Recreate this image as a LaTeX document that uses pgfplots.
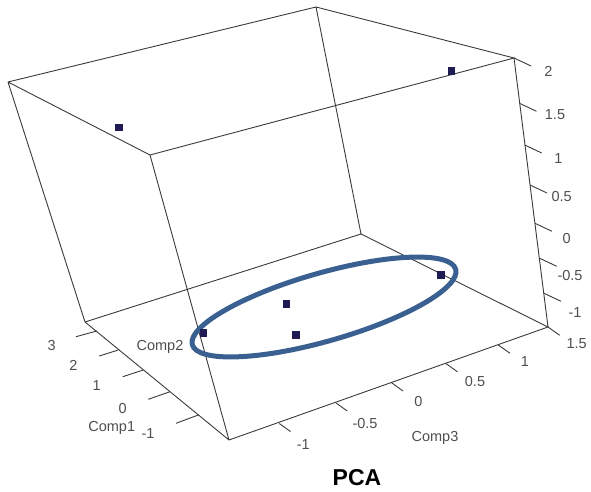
\documentclass[border=0pt]{standalone}
\usepackage{pgfplots}
\pgfplotsset{compat=1.18}
\usepackage{fontspec}
\setmainfont{Liberation Sans}
\definecolor{edge}{RGB}{58,58,58}
\definecolor{ptcol}{RGB}{30,28,82}
\definecolor{ring}{RGB}{58,96,145}
\definecolor{lbl}{RGB}{78,78,78}

\begin{document}
\begin{tikzpicture}
\begin{axis}[
  scale only axis, width=591pt, height=492pt,
  xmin=0, xmax=591, ymin=0, ymax=492, y dir=reverse,
  hide axis, clip=false, unbounded coords=jump,
]
\path (rel axis cs:0,0) rectangle (rel axis cs:1,1);
% bounding box of the scene (projected)
\addplot[no marks, edge, line width=0.9pt] coordinates {
  (8,82) (316,7) (514,58) (150,155) (8,82) (nan,nan)
  (85,322) (361,234) (548,327) (229,440) (85,322) (nan,nan)
  (8,82) (85,322) (nan,nan)
  (316,7) (361,234) (nan,nan)
  (514,58) (548,327) (nan,nan)
  (150,155) (229,440)
};
% Comp1 ticks
\addplot[no marks, edge, line width=0.9pt] coordinates {
  (96.7,331) (76,336.7) (nan,nan)
  (118.3,350) (99.3,356) (nan,nan)
  (143.3,370) (122.7,376.7) (nan,nan)
  (170,391.7) (148.3,399.3) (nan,nan)
  (198.3,415) (176,423.3)
};
% Comp3 ticks
\addplot[no marks, edge, line width=0.9pt] coordinates {
  (279.3,423.5) (290.5,431.5) (nan,nan)
  (336,403) (347.3,411) (nan,nan)
  (391.7,382.8) (403,391) (nan,nan)
  (446,363.6) (457.5,371.8) (nan,nan)
  (498.3,345) (510,353.3) (nan,nan)
  (548,327) (559.7,335.3)
};
% vertical axis ticks
\addplot[no marks, edge, line width=0.9pt] coordinates {
  (514,58) (531,66) (nan,nan)
  (519.5,103.3) (536.5,111.3) (nan,nan)
  (524.7,145) (541.7,153) (nan,nan)
  (530,185) (547,193) (nan,nan)
  (535,223.3) (552,231.3) (nan,nan)
  (539.7,258.3) (556.7,266.3) (nan,nan)
  (544,293.3) (561,301.3)
};
% observations
\addplot[only marks, mark=square*, mark size=3.3pt, color=ptcol] coordinates {
  (118.5,127) (451,71) (440.7,274.7) (286,303.7) (203.3,332.7) (295.7,334.7)
};
% highlighted cluster
\draw[ring, line width=5pt, rotate around={16:(axis cs:324,307)}]
  (axis cs:324,307) ellipse [x radius=137pt, y radius=34pt];
% labels
\begin{scope}[every node/.style={font=\fontsize{14.5}{16}\selectfont, text=lbl, inner sep=0pt}]
\node at (51.7,346) {3};
\node at (73.3,365.7) {2};
\node at (96.7,386) {1};
\node at (122.7,408.3) {0};
\node at (148,434) {-1};
\node at (111.7,428.3) {Comp1};
\node at (160,346.7) {Comp2};
\node at (303.3,445) {-1};
\node at (365,423.3) {-0.5};
\node at (418.3,401.7) {0};
\node at (475,381.7) {0.5};
\node at (525,361.7) {1};
\node at (576.7,343.3) {1.5};
\node at (435,438.3) {Comp3};
\node at (548.3,71.7) {2};
\node at (555,115) {1.5};
\node at (558.3,158.3) {1};
\node at (561.7,196.7) {0.5};
\node at (566.7,238.3) {0};
\node at (570,276) {-0.5};
\node at (575,313) {-1};
\end{scope}
\node[font=\fontsize{23}{26}\selectfont\bfseries, inner sep=0pt] at (357,478) {PCA};
\end{axis}
\end{tikzpicture}
\end{document}
